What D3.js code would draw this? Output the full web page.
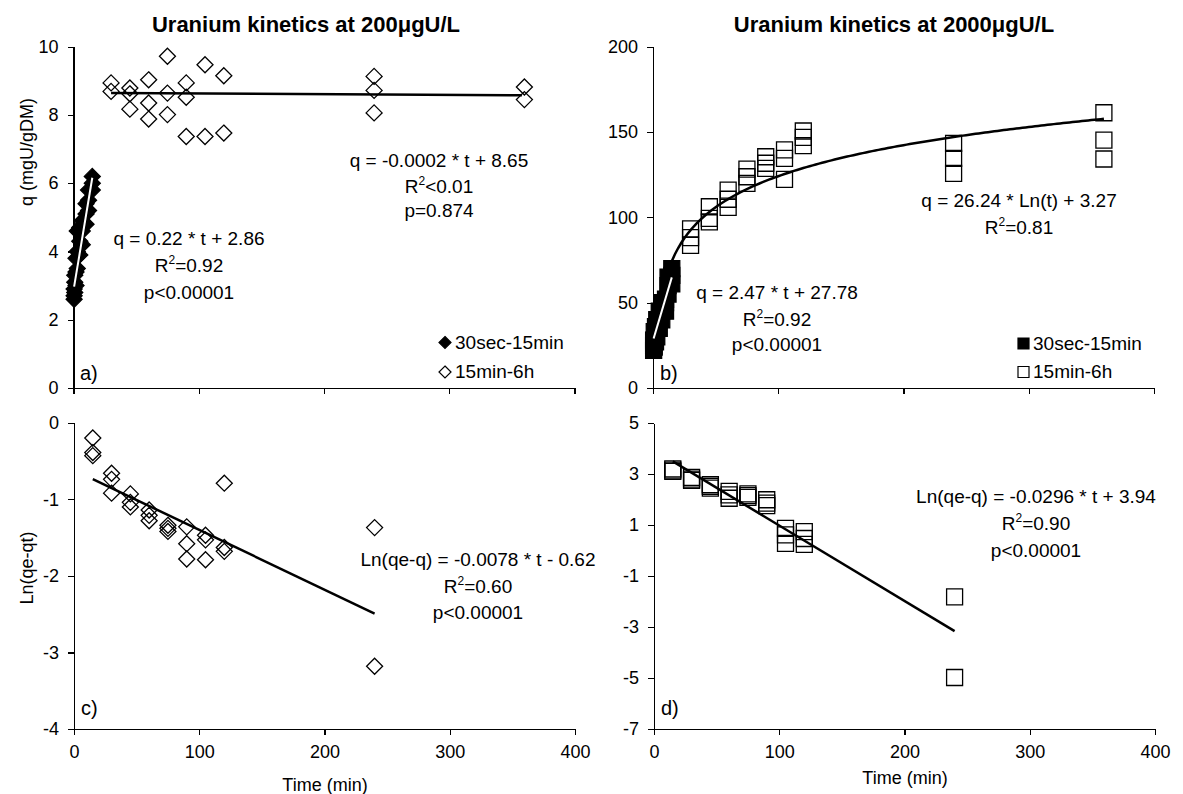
<!DOCTYPE html>
<html><head><meta charset="utf-8">
<script src="https://cdn.jsdelivr.net/npm/d3@7"></script>
<style>
body{margin:0;background:#fff}
svg{display:block}
text{font-family:"Liberation Sans",Arial,sans-serif;fill:#000}
</style>
</head><body>
<svg id="chart" width="1183" height="794"></svg>
<script>
// ---------- data ----------
const xTicks = [0, 100, 200, 300, 400];
const yTicksA = [0, 2, 4, 6, 8, 10];
const yTicksB = [0, 50, 100, 150, 200];
const yTicksC = [0, -1, -2, -3, -4];
const yTicksD = [5, 3, 1, -1, -3, -5, -7];

const titles = ["Uranium kinetics at 200\u03bcgU/L", "Uranium kinetics at 2000\u03bcgU/L"];
const seriesNames = ["30sec-15min", "15min-6h"];

// panel a: 30sec-15min (filled diamonds)
const tA1 = [0.5,0.5,0.5, 1,1,1, 2,2,2, 3,3,3, 5,5,5, 7,7,7, 10,10,10, 12,12,12, 15,15,15];
const qA1 = [2.6,2.7,2.9, 2.8,3.1,3.3, 3.0,3.4,3.8, 3.5,4.0,4.6, 3.9,4.3,4.7, 4.2,4.6,4.9, 4.8,5.1,5.4, 5.2,5.5,5.8, 5.8,6.0,6.2];
// panel a: 15min-6h (open diamonds)
const tA2 = [30,30, 45,45,45, 60,60,60, 75,75,75, 90,90,90, 105,105, 120,120, 240,240,240, 360,360];
const qA2 = [8.94,8.69, 8.79,8.62,8.17, 9.03,8.35,7.88, 9.72,8.64,8.01, 8.94,8.52,7.37, 9.47,7.37, 9.15,7.47, 9.13,8.72,8.06, 8.82,8.45];

// panel b: 30sec-15min (filled squares)
const tB1 = [0.5,0.5,0.5, 1,1,1, 2,2,2, 3,3,3, 5,5,5, 7,7,7, 10,10,10, 12,12,12, 15,15,15];
const qB1 = [22,25,28, 24,28,33, 27,31,36, 30,35,40, 35,40,45, 40,45,50, 45,50,52, 55,60,65, 61,66,70];
// panel b: 15min-6h (open squares)
const tB2 = [30,30,30, 45,45,45, 60,60,60, 75,75,75, 90,90,90, 105,105,105, 120,120,120, 240,240,240, 360,360,360];
const qB2 = [93.2,88.1,83.6, 106.2,99.4,97.4, 116,110.6,105.9, 128.3,123.8,119.9, 135.5,131.7,128.7, 139.5,134.6,122.3, 150.6,146.9,142, 143.4,134.6,125.8, 161.3,145.3,134.2];

// panel c: Ln(qe-qt) 200 µg/L
const tC = [15,15,15, 30,30,30, 45,45,45, 60,60,60, 75,75,75, 90,90,90, 105,105,105, 120,120,120, 240,240];
const lnC = [-0.20,-0.39,-0.43, -0.66,-0.74,-0.92, -0.93,-1.04,-1.10, -1.14,-1.21,-1.28, -1.34,-1.38,-1.42, -1.36,-1.58,-1.78, -1.47,-1.53,-1.79, -0.79,-1.63,-1.68, -1.37,-3.18];

// panel d: Ln(qe-qt) 2000 µg/L
const tD = [15,15,15, 30,30,30, 45,45,45, 60,60,60, 75,75,75, 90,90,90, 105,105,105, 120,120,120, 240,240];
const lnD = [3.20,3.15,3.10, 2.87,2.80,2.75, 2.58,2.52,2.45, 2.32,2.18,2.05, 2.22,2.15,2.08, 1.99,1.86,1.76, 0.87,0.61,0.28, 0.74,0.47,0.24, -1.82,-4.98];

// fitted equations [slope, intercept] and their time ranges
const fitA1 = [0.22, 2.86], rangeA1 = [0.5, 15];
const fitA2 = [-0.0002, 8.65], rangeA2 = [30, 358];
const fitB1 = [2.47, 27.78], rangeB1 = [0.5, 15];
const fitB2 = [26.24, 3.27], rangeB2 = [12.5, 360];   // q = a*Ln(t)+b
const fitC = [-0.0078, -0.62], rangeC = [15, 240];
const fitD = [-0.0296, 3.94], rangeD = [15, 240];

// ---------- drawing ----------
const svg = d3.select("#chart");
const diamond = {draw(ctx, size){const r=Math.sqrt(size)/2;ctx.moveTo(0,-r);ctx.lineTo(r,0);ctx.lineTo(0,r);ctx.lineTo(-r,0);ctx.closePath();}};
const square = {draw(ctx, size){const r=Math.sqrt(size)/2;ctx.rect(-r,-r,2*r,2*r);}};
const fmt = d => String(d);

function makePanel(xr, yd, yr, yTicks, showXLabels){
  const x = d3.scaleLinear().domain([0,400]).range(xr);
  const y = d3.scaleLinear().domain(yd).range(yr);
  const g = svg.append("g");
  const ax = g.append("g").attr("transform",`translate(0,${yr[0]})`)
    .call(d3.axisBottom(x).tickValues(xTicks).tickSize(6).tickSizeOuter(0).tickPadding(10)
      .tickFormat(showXLabels ? fmt : ""));
  const ay = g.append("g").attr("transform",`translate(${xr[0]},0)`)
    .call(d3.axisLeft(y).tickValues(yTicks).tickSize(6).tickSizeOuter(0).tickPadding(9).tickFormat(fmt));
  [ax, ay].forEach(a => {
    a.selectAll("path,line").attr("stroke","#000").attr("stroke-width",1.2).attr("shape-rendering","crispEdges");
    a.selectAll("text").attr("font-size",18).attr("font-family",'"Liberation Sans",Arial,sans-serif').attr("fill","#000");
  });
  return {g, x, y};
}

function points(p, ts, vs, type, filled, size){
  p.g.append("g").selectAll("path").data(ts.map((t,i)=>[t,vs[i]])).join("path")
    .attr("transform", d=>`translate(${p.x(d[0])},${p.y(d[1])})`)
    .attr("d", d3.symbol().type(type).size(size))
    .attr("fill", filled ? "#000" : "none")
    .attr("stroke", "#000").attr("stroke-width", 1.3);
}

function linFit(p, fit, range, color, w){
  const line = d3.line().x(d=>p.x(d)).y(d=>p.y(fit[0]*d+fit[1]));
  p.g.append("path").attr("d", line(range)).attr("fill","none").attr("stroke",color).attr("stroke-width",w);
}

function label(lines, cx, baselines, size){
  lines.forEach((s,i)=>{
    const t = svg.append("text").attr("x",cx).attr("y",baselines[i]).attr("text-anchor","middle").attr("font-size",size||19);
    if (typeof s === "object"){
      t.append("tspan").text(s.pre);
      t.append("tspan").attr("dy",-8).attr("font-size",12).text(s.sup);
      t.append("tspan").attr("dy",8).text(s.post);
    } else t.text(s);
  });
}

// panel a
const pa = makePanel([73.5,574.5],[0,10],[388,46.7],yTicksA,false);
points(pa, tA2, qA2, diamond, false, 256);
linFit(pa, fitA2, rangeA2, "#000", 2.5);
points(pa, tA1, qA1, diamond, true, 256);
linFit(pa, fitA1, rangeA1, "#fff", 2);

// panel b
const pb = makePanel([653,1154],[0,200],[388,46.7],yTicksB,false);
points(pb, tB2, qB2, square, false, 256);
const logLine = d3.line().x(d=>pb.x(d)).y(d=>pb.y(fitB2[0]*Math.log(d)+fitB2[1]));
const tSamples = d3.range(rangeB2[0], rangeB2[1], 2.5).concat([rangeB2[1]]);
pb.g.append("path").attr("d", logLine(tSamples)).attr("fill","none").attr("stroke","#000").attr("stroke-width",2.5);
points(pb, tB1, qB1, square, true, 256);
linFit(pb, fitB1, rangeB1, "#fff", 2);

// panel c
const pc = makePanel([74,575],[-4,0],[729,422.7],yTicksC,true);
points(pc, tC, lnC, diamond, false, 256);
linFit(pc, fitC, rangeC, "#000", 2.5);

// panel d
const pd = makePanel([654,1155],[-7,5],[729,423],yTicksD,true);
points(pd, tD, lnD, square, false, 256);
linFit(pd, fitD, rangeD, "#000", 2.5);

// titles
svg.append("text").attr("x",306).attr("y",32).attr("text-anchor","middle").attr("font-size",22).attr("font-weight","bold").text(titles[0]);
svg.append("text").attr("x",894).attr("y",32).attr("text-anchor","middle").attr("font-size",22).attr("font-weight","bold").text(titles[1]);

// axis titles
svg.append("text").attr("transform","translate(33,152) rotate(-90)").attr("text-anchor","middle").attr("font-size",18).text("q (mgU/gDM)");
svg.append("text").attr("transform","translate(33,568) rotate(-90)").attr("text-anchor","middle").attr("font-size",18).text("Ln(qe-qt)");
svg.append("text").attr("x",325).attr("y",791).attr("text-anchor","middle").attr("font-size",18).text("Time (min)");
svg.append("text").attr("x",905).attr("y",784).attr("text-anchor","middle").attr("font-size",18).text("Time (min)");

// equations
label(["q = -0.0002 * t + 8.65", {pre:"R",sup:"2",post:"<0.01"}, "p=0.874"], 439, [167,193,217]);
label(["q = 0.22 * t + 2.86", {pre:"R",sup:"2",post:"=0.92"}, "p<0.00001"], 189, [245,272,299]);
label(["q = 26.24 * Ln(t) + 3.27", {pre:"R",sup:"2",post:"=0.81"}], 1019, [207,234]);
label(["q = 2.47 * t + 27.78", {pre:"R",sup:"2",post:"=0.92"}, "p<0.00001"], 777, [299,326,351]);
label(["Ln(qe-q) = -0.0078 * t - 0.62", {pre:"R",sup:"2",post:"=0.60"}, "p<0.00001"], 478, [566,593,619]);
label(["Ln(qe-q) = -0.0296 * t + 3.94", {pre:"R",sup:"2",post:"=0.90"}, "p<0.00001"], 1036, [503,530,557]);

// panel letters
[["a)",80,380],["b)",660,380],["c)",81,715],["d)",661,715]].forEach(d=>{
  svg.append("text").attr("x",d[1]).attr("y",d[2]).attr("font-size",20).text(d[0]);
});

// legends
function legend(type, x0, tx, ys){
  seriesNames.forEach((n,i)=>{
    svg.append("path").attr("transform",`translate(${x0},${ys[i]})`)
      .attr("d", d3.symbol().type(type).size(type===diamond?144:121))
      .attr("fill", i===0 ? "#000" : "#fff").attr("stroke","#000").attr("stroke-width",1.2);
    svg.append("text").attr("x",tx).attr("y",ys[i]+6).attr("font-size",19).text(n);
  });
}
legend(diamond, 445, 455, [342.5, 372]);
legend(square, 1023.5, 1033, [343.5, 372]);
</script>
</body></html>
